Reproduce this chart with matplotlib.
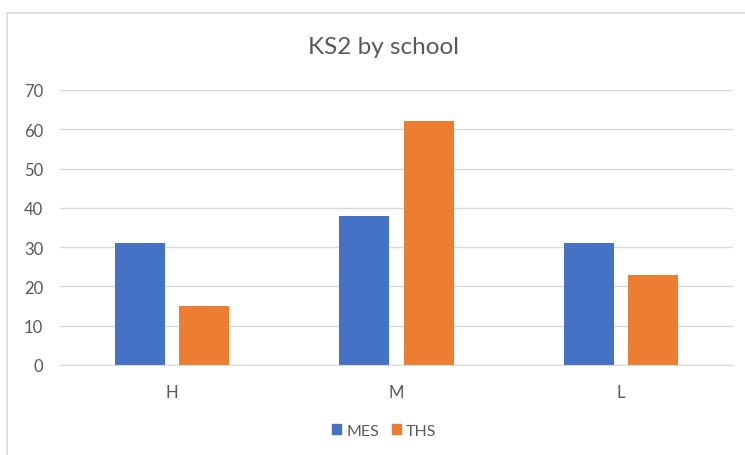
import matplotlib
matplotlib.use("Agg")
import matplotlib.pyplot as plt
import numpy as np
from matplotlib.lines import Line2D

categories = ["H", "M", "L"]
mes = [31, 38, 31]
ths = [15, 62, 23]
series_names = ["MES", "THS"]
yticks = [0, 10, 20, 30, 40, 50, 60, 70]

plt.rcParams['font.family'] = ['Lato', 'DejaVu Sans']
txt = '#595959'
grid = '#d9d9d9'

fig = plt.figure(figsize=(7.45, 4.56), dpi=100)
ax = fig.add_axes([60/745, 1-366/456, 673/745, 275/456])

x = np.arange(len(categories))
w = 0.223
off = 0.143
ax.bar(x - off, mes, width=w, color='#4472C4', label=series_names[0], zorder=3)
ax.bar(x + off, ths, width=w, color='#ED7D31', label=series_names[1], zorder=3)

ax.set_xlim(-0.5, 2.5)
ax.set_ylim(0, 70)
ax.set_yticks(yticks)
ax.set_xticks(x)
ax.set_xticklabels(categories)
ax.yaxis.grid(True, color=grid, linewidth=1, zorder=0)
for s in ['top', 'right', 'left']:
    ax.spines[s].set_visible(False)
ax.spines['bottom'].set_color(grid)
ax.spines['bottom'].set_zorder(4)
ax.tick_params(axis='both', length=0, colors=txt, labelsize=12)
ax.tick_params(axis='x', pad=14)
ax.tick_params(axis='y', pad=12)

fig.text(383/745, 1-48/456, "KS2 by school", ha='center', va='center', fontsize=17.5, color=txt)

handles = [plt.Rectangle((0, 0), 1, 1, color='#4472C4'), plt.Rectangle((0, 0), 1, 1, color='#ED7D31')]
fig.legend(handles, series_names, loc='center', bbox_to_anchor=(384/745, 1-432/456), ncol=2,
           frameon=False, fontsize=11.5, labelcolor=txt, handlelength=0.6, handleheight=0.6,
           handletextpad=0.3, columnspacing=0.8)

# chart border (top and left)
fig.add_artist(Line2D([7/745, 1.0], [1-14/456, 1-14/456], color=grid, lw=1.2, transform=fig.transFigure))
fig.add_artist(Line2D([7/745, 7/745], [0, 1-14/456], color=grid, lw=1.2, transform=fig.transFigure))

fig.savefig("out.png", dpi=100)
